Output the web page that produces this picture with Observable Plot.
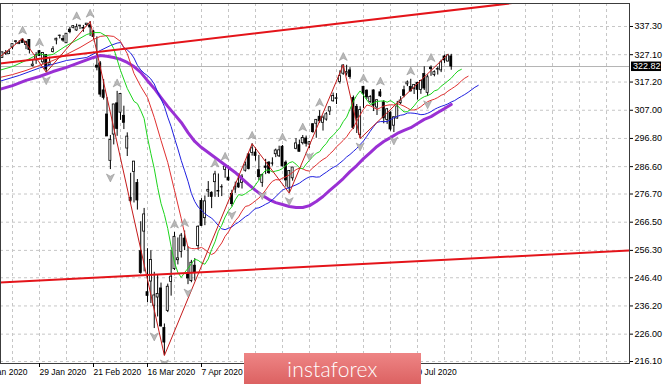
<!DOCTYPE html>
<html><head><meta charset="utf-8">
<script src="https://cdn.jsdelivr.net/npm/d3@7"></script>
<script src="https://cdn.jsdelivr.net/npm/@observablehq/plot@0.6"></script>
<style>
html,body{margin:0;padding:0;background:#fff;}
#wrap{position:relative;width:665px;height:384px;overflow:hidden;}
#banner{position:absolute;left:244px;top:353px;width:177px;height:31px;background:linear-gradient(#ee8585,#dc6262);color:#fff;font:300 21px Lato,"Open Sans",sans-serif;display:flex;align-items:center;justify-content:center;letter-spacing:0.2px;}
</style></head><body>
<div id="wrap"><div id="chart"></div><div id="banner">instaforex</div></div>
<script>
// ---- data: SPY daily, bar index 5 = 9 Jan 2020 ----
const firstBar = 5;
const open  = [326.20,327.29,325.92,327.66,327.30,329.71,331.70,330.90,332.55,330.63,332.44,323.03,325.06,328.38,324.36,327.00,323.35,328.07,332.27,333.91,332.82,331.23,336.16,336.83,335.86,337.51,336.51,337.79,337.74,335.47,323.14,323.94,314.18,305.46,288.70,298.21,309.50,306.12,304.98,293.15,275.30,284.64,280.70,256.00,263.09,241.18,245.04,236.25,239.25,242.53,228.19,234.42,244.87,249.52,252.75,255.70,260.56,247.98,245.19,250.76,257.84,274.21,267.96,277.58,277.14,280.98,277.57,279.15,285.38,282.61,276.73,278.35,280.49,280.73,285.12,291.02,291.53,291.71,285.31,280.74,286.64,288.04,287.75,291.09,290.34,293.79,288.04,278.95,282.37,293.05,294.35,295.06,296.79,294.57,301.93,302.12,304.65,302.46,303.62,306.55,310.24,311.11,317.23,320.22,320.30,321.42,311.46,308.24,298.02,315.48,314.07,310.00,314.17,307.99,313.49,309.84,303.47,306.16,301.41,303.99,309.57,314.24,316.37,315.38,314.61,316.84,314.31,320.13,313.30,322.41,319.79,321.88,321.43,326.45,324.62,326.47];
const high  = [326.73,327.46,327.96,328.62,329.02,330.92,332.18,332.18,332.95,332.00,332.53,325.12,327.85,328.63,327.91,327.17,326.16,330.01,333.09,334.19,333.99,334.75,337.02,337.65,338.12,337.73,337.67,338.34,339.08,335.81,333.56,324.60,318.11,311.56,297.89,309.16,313.84,313.10,308.47,298.82,284.19,288.52,281.94,266.66,271.48,256.90,256.17,248.37,247.38,244.47,229.68,244.10,256.35,262.80,260.81,262.43,263.33,257.66,252.68,253.32,265.16,275.03,276.00,281.20,277.51,284.90,283.94,280.03,287.30,286.79,278.04,281.00,283.94,283.70,288.27,291.40,294.88,293.32,290.66,283.90,289.25,288.46,289.78,292.95,294.00,294.24,288.66,285.11,286.33,296.75,296.21,297.87,297.67,295.63,302.19,303.57,306.84,304.96,306.21,308.13,313.22,313.00,321.27,323.41,323.28,322.39,312.15,309.08,308.28,315.64,314.39,312.30,314.38,310.79,314.50,310.51,307.64,306.39,304.61,310.20,311.89,315.70,317.60,318.20,316.29,317.10,317.88,322.71,319.76,323.04,321.28,322.57,325.13,326.93,327.20,327.23];
const low   = [325.52,325.20,325.92,326.84,327.26,328.85,330.82,330.82,331.17,328.93,327.36,322.66,323.60,326.40,323.54,320.73,323.22,327.72,330.67,332.80,331.60,331.19,334.68,336.43,335.56,336.20,335.21,337.38,333.69,332.58,321.25,311.69,310.70,297.51,285.54,294.46,297.57,303.33,300.01,290.27,273.45,273.46,270.88,247.68,248.52,237.36,237.07,228.02,232.22,228.50,218.26,233.80,239.75,249.05,251.05,253.53,256.22,243.90,244.59,245.22,256.37,264.89,265.25,275.47,271.41,275.51,275.46,275.76,282.40,281.35,272.02,276.91,278.75,278.50,284.62,285.40,290.41,288.59,281.52,279.13,283.71,283.78,286.76,289.86,289.88,286.52,279.20,277.00,281.34,292.70,291.95,294.44,293.69,293.22,298.69,296.87,302.24,299.47,303.06,305.10,309.94,309.08,316.47,319.63,319.36,318.22,300.01,298.60,296.74,307.67,310.86,309.51,306.53,305.10,311.61,302.10,301.88,299.42,298.93,303.82,309.07,311.51,315.56,313.67,312.70,310.68,312.76,314.13,312.00,319.27,319.09,319.74,320.62,323.94,324.50,321.48];
const close = [326.65,325.71,327.95,327.45,328.19,330.92,331.95,331.30,331.34,331.72,328.77,323.50,326.89,326.62,327.68,321.73,324.12,329.06,332.86,333.98,332.20,334.68,335.26,337.42,337.06,337.60,336.73,338.34,336.95,333.48,322.42,312.65,311.50,297.51,296.26,309.09,300.24,312.86,302.46,297.46,274.23,288.42,274.36,248.11,269.32,239.85,252.80,240.00,240.51,228.80,222.95,243.15,246.79,261.20,253.42,261.65,257.75,246.15,251.83,248.19,264.86,265.13,274.03,278.20,275.66,283.79,277.76,279.10,286.64,281.59,273.04,279.08,279.08,282.97,287.05,285.73,293.21,290.48,282.79,283.57,286.19,284.25,287.68,292.44,292.50,286.67,281.60,285.00,286.28,295.00,291.97,296.93,294.88,295.44,299.08,303.53,302.97,304.32,305.55,308.08,312.18,311.36,319.34,323.20,320.79,319.00,300.61,304.21,307.05,312.96,311.66,311.78,308.64,310.62,312.05,304.09,307.35,300.05,304.46,308.36,310.52,312.23,317.05,313.78,316.18,314.38,317.59,314.84,318.92,321.85,320.79,321.72,324.32,325.01,326.86,322.82];

// Alligator lines [bar index, price]
const lips = [[6,321.4],[10,322.8],[14,325.0],[18,327.5],[20,326.8],[22,327.2],[26,330.4],[30,333.0],[32,334.4],[34,335.1],[36,335.1],[38,333.7],[40,329.3],[42,321.4],[44,314.9],[46,310.2],[47,309.4],[48,306.9],[49,304.0],[50,297.1],[51,291.3],[52,285.9],[53,279.1],[54,273.3],[55,269.3],[56,264.2],[57,257.7],[58,251.9],[59,248.3],[60,246.5],[61,248.3],[62,249.8],[63,251.5],[64,253.1],[65,252.7],[66,251.8],[67,251.3],[68,253.2],[69,256.6],[70,259.4],[71,263.2],[72,265.4],[73,268.4],[74,270.6],[75,272.1],[76,274.6],[77,276.5],[78,276.2],[79,276.8],[80,277.7],[81,278.4],[82,280.0],[83,281.7],[84,283.9],[85,285.3],[86,285.4],[87,284.7],[88,285.0],[89,285.3],[90,285.9],[91,287.0],[92,288.0],[93,288.4],[94,287.5],[95,286.2],[96,285.8],[97,287.5],[98,288.9],[99,290.3],[100,291.4],[101,292.0],[102,293.7],[103,295.0],[104,296.9],[105,297.9],[106,299.3],[107,300.7],[108,302.9],[109,304.5],[110,307.4],[111,310.2],[112,312.4],[113,314.0],[114,312.4],[115,310.7],[116,309.1],[117,309.6],[118,310.2],[119,310.3],[120,310.4],[121,309.9],[122,310.5],[123,309.7],[124,308.7],[125,307.5],[126,306.4],[127,306.5],[128,307.3],[129,308.6],[130,310.2],[131,311.2],[132,311.9],[133,312.3],[134,312.9],[135,314.0],[136,314.4],[137,315.7],[138,316.6],[139,317.6],[140,318.6],[141,320.0],[142,321.2],[143,321.8]];
const teeth = [[6,318.8],[10,319.9],[14,321.4],[18,323.2],[22,325.0],[26,327.2],[30,329.7],[34,332.6],[36,333.7],[38,334.0],[40,333.7],[42,331.9],[44,327.5],[46,320.3],[48,315.6],[50,311.6],[52,304.4],[54,296.1],[56,288.1],[58,278.0],[60,267.8],[61,262.4],[62,257.4],[63,257.0],[64,256.9],[65,257.0],[66,257.4],[67,256.6],[68,255.6],[69,254.8],[70,255.5],[71,257.3],[72,259.0],[73,261.4],[74,263.0],[75,265.2],[76,267.0],[77,268.4],[78,270.5],[79,272.2],[80,272.5],[81,273.3],[82,274.3],[83,275.2],[84,276.6],[85,278.1],[86,279.9],[87,281.3],[88,281.9],[89,281.8],[90,282.4],[91,282.9],[92,283.6],[93,284.5],[94,285.5],[95,286.1],[96,285.8],[97,285.2],[98,285.0],[99,286.2],[100,287.2],[101,288.3],[102,289.2],[103,289.9],[104,291.2],[105,292.3],[106,293.8],[107,294.9],[108,296.1],[109,297.4],[110,299.2],[111,300.7],[112,303.0],[113,305.3],[114,307.3],[115,308.9],[116,308.6],[117,308.0],[118,307.3],[119,307.9],[120,308.5],[121,308.8],[122,309.0],[123,308.9],[124,309.4],[125,309.0],[126,308.5],[127,307.8],[128,307.1],[129,307.1],[130,307.5],[131,308.3],[132,309.3],[133,310.1],[134,310.6],[135,311.0],[136,311.6],[137,312.4],[138,312.9],[139,313.9],[140,314.7],[141,315.5],[142,316.4],[143,317.6],[144,318.6],[145,319.3]];
const jaw = [[6,317.4],[12,319.6],[18,322.3],[26,325.0],[32,326.1],[36,328.6],[39,330.4],[41,331.3],[42,331.5],[43,329.7],[44,328.8],[45,327.7],[46,325.9],[47,323.3],[48,321.6],[49,320.4],[50,319.5],[51,318.3],[52,316.5],[53,313.6],[54,311.1],[55,308.4],[56,304.5],[57,301.1],[58,296.9],[59,293.0],[60,288.8],[61,285.1],[62,281.3],[63,276.9],[64,274.0],[65,272.0],[66,270.8],[67,269.6],[68,268.7],[69,268.0],[70,266.7],[71,265.3],[72,264.1],[73,263.8],[74,264.3],[75,264.8],[76,265.8],[77,266.5],[78,267.5],[79,268.5],[80,269.2],[81,270.4],[82,271.5],[83,271.7],[84,272.3],[85,273.0],[86,273.6],[87,274.6],[88,275.7],[89,277.0],[90,278.1],[91,278.7],[92,278.9],[93,279.5],[94,280.0],[95,280.6],[96,281.5],[97,282.3],[98,282.9],[99,283.0],[100,282.8],[101,282.9],[102,283.8],[103,284.6],[104,285.5],[105,286.3],[106,286.9],[107,287.9],[108,288.9],[109,290.1],[110,291.0],[111,292.1],[112,293.2],[113,294.6],[114,295.9],[115,297.6],[116,299.4],[117,301.1],[118,302.6],[119,302.9],[120,302.9],[121,302.9],[122,303.6],[123,304.3],[124,304.8],[125,305.2],[126,305.4],[127,306.0],[128,306.0],[129,305.9],[130,305.7],[131,305.4],[132,305.5],[133,305.9],[134,306.5],[135,307.3],[136,307.9],[137,308.4],[138,308.8],[139,309.3],[140,310.0],[141,310.5],[142,311.3],[143,312.0],[144,312.7],[145,313.5],[146,314.4],[147,315.3],[148,316.0]];
const ma50 = [[6,314.5],[10,315.9],[14,317.8],[18,319.2],[22,321.0],[26,322.5],[30,324.3],[34,326.1],[36,326.8],[38,326.5],[40,326.1],[42,325.4],[44,324.3],[46,322.8],[48,320.7],[50,317.7],[52,314.9],[54,311.6],[56,308.4],[58,305.5],[60,302.6],[62,298.9],[64,295.7],[66,293.5],[68,291.7],[70,289.9],[72,288.1],[74,286.3],[76,284.5],[78,282.3],[80,280.1],[82,278.0],[84,276.2],[86,274.7],[88,273.6],[90,272.9],[92,272.2],[94,271.8],[96,271.8],[98,272.5],[100,274.0],[102,275.8],[104,278.0],[106,280.1],[108,282.3],[110,284.8],[112,287.0],[114,289.5],[116,291.7],[118,293.9],[120,295.7],[122,297.1],[124,298.6],[126,299.7],[128,300.7],[130,302.2],[132,303.7],[134,304.7],[136,306.2],[138,307.6],[140,309.1]];
const zigzag = [[1,321.1],[13,332.95],[20,320.73],[33,339.08],[55,218.26],[81,294.88],[92,277.00],[108,323.41],[113,296.74],[139,327.23]];
const fractalUp = [[13,332.95],[18,328.63],[29,338.12],[33,339.08],[41,313.84],[58,262.80],[61,263.33],[70,284.90],[73,287.30],[81,294.88],[90,294.24],[96,297.87],[101,306.84],[108,323.41],[114,315.64],[119,314.50],[128,318.20],[134,323.04]];
const fractalDown = [[20,320.73],[39,285.54],[52,228.02],[55,218.26],[62,243.90],[75,272.02],[84,279.13],[92,277.00],[98,293.22],[113,296.74],[123,298.93],[133,312.00]];
const upperTrend = [[0,322.97],[160,346.04]];
const lowerTrend = [[0,244.28],[193,256.29]];
const yTicks = [216.10,226.00,236.20,246.40,256.30,266.50,276.70,286.60,296.80,307.00,317.20,327.10,337.30];
const xGrid = [2,10,18,26,34,42,50,58,66,74,82,90,98,106,114,122,130,138,146,154,162,170,178,186];
const xLabelIdx = [2,18,34,50,66,130];
const xLabelText = ["6 Jan 2020","29 Jan 2020","21 Feb 2020","16 Mar 2020","7 Apr 2020","9 Jul 2020"];

const candles = open.map((o, k) => ({i: firstBar + k, o, h: high[k], l: low[k], c: close[k]}));
const lastPrice = close[close.length - 1];

const arrowUp = {draw(ctx, size) {
  const r = Math.sqrt(size / Math.PI);
  ctx.moveTo(0, -r * 1.1); ctx.lineTo(r, r * 0.9); ctx.lineTo(0, r * 0.35); ctx.lineTo(-r, r * 0.9); ctx.closePath();
}};
const arrowDown = {draw(ctx, size) {
  const r = Math.sqrt(size / Math.PI);
  ctx.moveTo(0, r * 1.1); ctx.lineTo(r, -r * 0.9); ctx.lineTo(0, -r * 0.35); ctx.lineTo(-r, -r * 0.9); ctx.closePath();
}};

const FONT = "'Liberation Sans', Arial, sans-serif";
const priceTag = (index, scales, values, dim) => {
  const y = scales.y(lastPrice);
  const x0 = dim.width - dim.marginRight;
  const g = d3.create("svg:g");
  g.append("rect").attr("x", x0 + 2).attr("y", y - 4.5).attr("width", 30).attr("height", 9.5).attr("fill", "#000");
  g.append("text").attr("x", x0 + 4).attr("y", y + 0.3).attr("dy", "0.35em").attr("fill", "#fff")
    .attr("text-anchor", "start").attr("font-size", 9).attr("font-family", FONT).text(lastPrice.toFixed(2));
  return g.node();
};

const P = () => ({x: d => d[0], y: d => d[1]});

const chart = Plot.plot({
  width: 665, height: 384,
  marginLeft: 0, marginRight: 36, marginTop: 3, marginBottom: 21,
  x: {domain: [6.444, 192.81], label: null},
  y: {domain: [215.38, 345.62], label: null},
  style: {fontFamily: FONT, background: "white", color: "black"},
  marks: [
    Plot.ruleY(yTicks, {stroke: "#c6c6c6", strokeDasharray: "3,3"}),
    Plot.ruleX(xGrid, {stroke: "#c6c6c6", strokeDasharray: "3,3"}),
    Plot.ruleY([lastPrice], {stroke: "#b4b4b4"}),
    Plot.ruleX(candles, {x: "i", y1: "l", y2: "h", stroke: "black", strokeWidth: 1, clip: true}),
    Plot.rect(candles, {x1: d => d.i - 0.3, x2: d => d.i + 0.3, y1: "o", y2: "c",
      fill: d => d.c >= d.o ? "white" : "black", stroke: "black", strokeWidth: 0.8, clip: true}),
    Plot.line(ma50, {...P(), stroke: "#9a30d4", strokeWidth: 3, clip: true}),
    Plot.line(jaw, {...P(), stroke: "#2020e0", strokeWidth: 1, clip: true}),
    Plot.line(teeth, {...P(), stroke: "#e03030", strokeWidth: 1, clip: true}),
    Plot.line(lips, {...P(), stroke: "#1cd41c", strokeWidth: 1, clip: true}),
    Plot.line(zigzag, {...P(), stroke: "#c41a1a", strokeWidth: 1, clip: true}),
    Plot.line(upperTrend, {...P(), stroke: "#e4141a", strokeWidth: 2, clip: true}),
    Plot.line(lowerTrend, {...P(), stroke: "#e4141a", strokeWidth: 2, clip: true}),
    Plot.dot(fractalUp, {...P(), symbol: arrowUp, r: 4, dy: -8, fill: "#b8b8b8", stroke: "#8c8c8c", strokeWidth: 0.5, clip: true}),
    Plot.dot(fractalDown, {...P(), symbol: arrowDown, r: 4, dy: 8, fill: "#b8b8b8", stroke: "#8c8c8c", strokeWidth: 0.5, clip: true}),
    Plot.frame({stroke: "#3c3c3c"}),
    Plot.axisY(yTicks, {anchor: "right", label: null, tickSize: 3, tickPadding: 2, tickFormat: d => d.toFixed(2), fontSize: 9}),
    Plot.axisX(xLabelIdx, {anchor: "bottom", label: null, tickSize: 4, tickPadding: 1, fontSize: 8.5, textAnchor: "start",
      tickFormat: d => xLabelText[xLabelIdx.indexOf(d)]}),
    priceTag
  ]
});
document.getElementById("chart").appendChild(chart);
</script>
</body></html>
